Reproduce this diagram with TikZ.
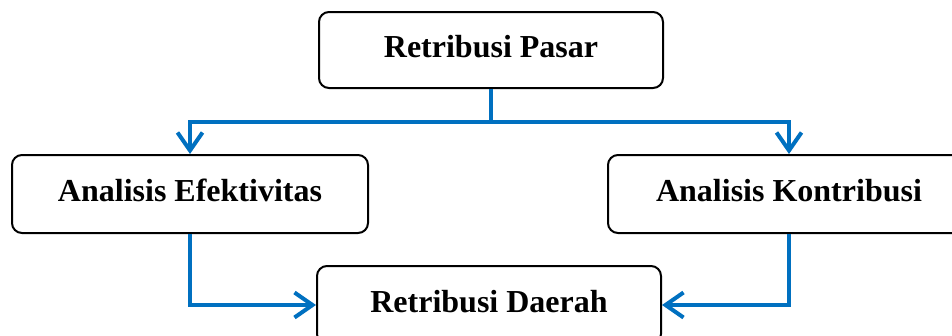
\documentclass[tikz,border=0pt]{standalone}
\usepackage{fontspec}
\setmainfont{Liberation Serif}
\usetikzlibrary{arrows.meta}
\definecolor{linkblue}{HTML}{0070C0}
\tikzset{
  box/.style={draw=black, line width=2pt, rounded corners=10pt, fill=white,
    inner sep=0pt, text height=22pt, text depth=8pt,
    font=\fontsize{32}{38}\selectfont\bfseries},
  conn/.style={draw=linkblue, line width=4pt},
  barb/.tip={Straight Barb[length=18pt,width=25pt,line width=4pt]},
  tipped/.style={conn, -barb},
  bothtipped/.style={conn, barb-barb}
}
\begin{document}
\begin{tikzpicture}[x=1pt,y=-1pt]
\useasboundingbox (0,0) rectangle (952,335);
\clip (0,0) rectangle (952,335);
\fill[white] (0,0) rectangle (952,335);
\node[box, minimum width=344pt, minimum height=76pt] (top) at (491,50) {Retribusi Pasar};
\node[box, minimum width=356pt, minimum height=78pt] (left) at (190,194) {Analisis Efektivitas};
\node[box, minimum width=362pt, minimum height=78pt] (right) at (789,194) {Analisis Kontribusi};
\node[box, minimum width=344pt, minimum height=78pt] (bottom) at (489,305) {Retribusi Daerah};
\coordinate (j) at (491,122);
\draw[conn] (top.south) -- (j);
\draw[bothtipped] (left.north) |- (j) -| (right.north);
\draw[tipped] (left.south) |- (bottom.west);
\draw[tipped] (right.south) |- (bottom.east);
\end{tikzpicture}
\end{document}
